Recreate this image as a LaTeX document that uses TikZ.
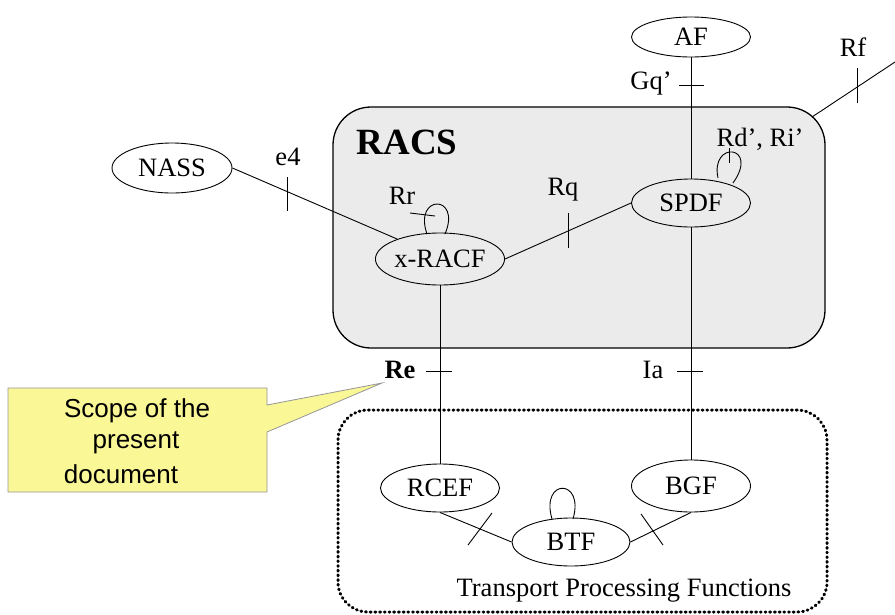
\documentclass[tikz,border=0pt]{standalone}
\usepackage{fontspec}
\setmainfont{Liberation Serif}
\newfontfamily\calloutfont{Liberation Sans}
\usetikzlibrary{shapes.geometric}
\definecolor{racsgray}{RGB}{235,235,235}
\definecolor{noteyellow}{RGB}{250,247,150}
\definecolor{notegray}{RGB}{150,150,150}
\begin{document}
\begin{tikzpicture}[x=1pt,y=-1pt,
  fe/.style={ellipse,draw,line width=0.9pt,inner sep=0pt,minimum width=119pt,minimum height=48pt,font=\fontsize{26.5}{31}\selectfont},
  lbl/.style={inner sep=0pt,font=\fontsize{26.5}{31}\selectfont},
  conn/.style={line width=0.9pt},
  tickmark/.style={line width=0.9pt},
  note/.style={inner sep=0pt,font=\calloutfont\fontsize{26}{31}\selectfont}]
\useasboundingbox (0,0) rectangle (895,614);

% RACS box
\node[draw,line width=1.3pt,fill=racsgray,rounded corners=38pt,minimum width=492pt,minimum height=241pt,inner sep=0pt] (racs) at (579,227.5) {};
\node[inner sep=0pt,font=\bfseries\fontsize{37}{40}\selectfont] (racslbl) at (407,142) {RACS};

% Transport box
\node[draw,line width=3pt,dash pattern=on 0.9pt off 3.8pt,line cap=round,rounded corners=30pt,minimum width=489pt,minimum height=202pt,inner sep=0pt] (tpf) at (582.5,511) {};
\node[lbl] (tpflbl) at (624,591) {Transport Processing Functions};

% functional entities
\node[fe,minimum height=40pt] (af) at (691,37) {AF};
\node[fe] (spdf) at (691,203) {SPDF};
\node[fe,minimum width=118pt,minimum height=52pt] (xracf) at (440,259) {x-RACF};
\node[fe,minimum width=120pt,minimum height=50pt] (nass) at (172,168) {NASS};
\node[fe] (rcef) at (440,488) {RCEF};
\node[fe,minimum height=52pt] (bgf) at (691,486) {BGF};
\node[fe,minimum width=118pt] (btf) at (571,542) {BTF};

% connectors
\draw[conn] (af.south) -- (spdf.north);
\draw[conn] (nass.east) -- (xracf.155);
\draw[conn] (xracf.east) -- (spdf.west);
\draw[conn] (xracf.south) -- (rcef.north);
\draw[conn] (spdf.south) -- (bgf.north);
\draw[conn] (rcef.south) -- (btf.west);
\draw[conn] (bgf.south) -- (btf.east);
\coordinate (rfa) at (812,117);
\coordinate (rfb) at (895,62);
\draw[conn] (rfa) -- (rfb);

% self loops
\draw[conn] (718,178) .. controls (710,140) and (760,145) .. (733,183);
\draw[conn] (427,234) .. controls (413,194) and (462,194) .. (445,234);
\draw[conn] (552,519) .. controls (540,478) and (585,478) .. (573,519);

% tick marks
\draw[tickmark] (679,85) -- (704,85);
\draw[tickmark] (857,68) -- (857,103);
\draw[tickmark] (729,148) -- (729,163);
\draw[tickmark] (410,213) -- (435,216);
\draw[tickmark] (568,213) -- (568,248);
\draw[tickmark] (287,177) -- (287,211);
\draw[tickmark] (426,371) -- (452,371);
\draw[tickmark] (677,371) -- (703,371);
\draw[tickmark] (468,545) -- (492,513);
\draw[tickmark] (641,514) -- (663,545);

% labels
\node[lbl] (gq) at (651,84) {Gq’};
\node[lbl] (rf) at (853,47) {Rf};
\node[lbl] (rdri) at (760,139) {Rd’, Ri’};
\node[lbl] (rr) at (402,196) {Rr};
\node[lbl] (rq) at (563,190) {Rq};
\node[lbl] (e4) at (288,157) {e4};
\node[lbl,font=\bfseries\fontsize{26.5}{31}\selectfont] (re) at (400,370) {Re};
\node[lbl] (ia) at (653,370) {Ia};

% callout
\draw[draw=notegray,line width=0.8pt,fill=noteyellow] (8,388) -- (267,388) -- (267,405) -- (382,383) -- (267,432) -- (267,492) -- (8,492) -- cycle;
\node[note] (scope1) at (137,411) {Scope of the};
\node[note] (scope2) at (136,443) {present};
\node[note] (scope3) at (121,474) {document};
\end{tikzpicture}
\end{document}
